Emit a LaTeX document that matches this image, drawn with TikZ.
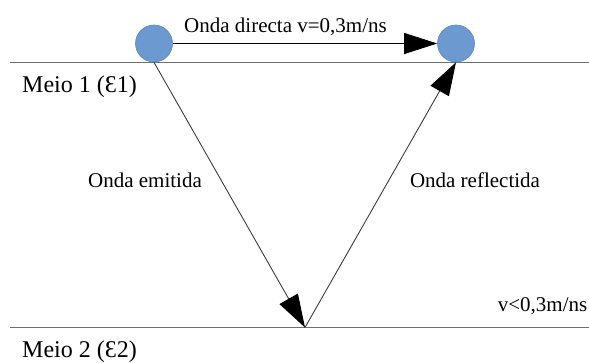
\documentclass[tikz,border=0pt]{standalone}
\usepackage{fontspec}
\setmainfont{Liberation Serif}
\usetikzlibrary{arrows.meta}
\definecolor{dotblue}{HTML}{6C9AD0}
\definecolor{dotedge}{HTML}{5A86BE}
\definecolor{surf}{HTML}{6E6E6E}
\definecolor{ray}{HTML}{3C3C3C}
\tikzset{
  dot/.style={circle, fill=dotblue, draw=dotedge, line width=0.6pt, minimum size=37pt, inner sep=0pt},
  surface/.style={draw=surf, line width=1.2pt},
  raypath/.style={draw=ray, line width=0.9pt, -{Triangle[length=33pt,width=21pt,color=black]}},
  lbl/.style={inner sep=0pt, font=\fontsize{21}{25}\selectfont},
  medium/.style={inner sep=0pt, font=\fontsize{24}{28}\selectfont, anchor=base west},
}
\begin{document}
\begin{tikzpicture}[x=1pt,y=-1pt]
\useasboundingbox (0,0) rectangle (589,363);
% surfaces
\coordinate (l1a) at (10,62.5);
\coordinate (l1b) at (589,62.5);
\coordinate (l2a) at (10,327.5);
\coordinate (l2b) at (589,327.5);
\draw[surface] (l1a) -- (l1b);
\draw[surface] (l2a) -- (l2b);
% antennas
\node[dot] (c1) at (154,43.5) {};
\node[dot] (c2) at (456,43.5) {};
\coordinate (v) at (305,327.5);
% rays
\draw[draw=black, line width=0.9pt, -{Triangle[length=33pt,width=21pt]}] (c1) -- (c2);
\draw[raypath] (c1.south) -- (v);
\draw[raypath] (v) -- (c2.south);
% labels
\node[lbl, anchor=base] (td) at (285.5,32.5) {Onda directa v=0,3m/ns};
\node[lbl, anchor=base] (te) at (145,188) {Onda emitida};
\node[lbl, anchor=base] (tr) at (475,188) {Onda reflectida};
\node[lbl, anchor=base east] (tv) at (587.5,312) {v<0,3m/ns};
\node[medium] (m1) at (22,93) {Meio 1 (Ɛ1)};
\node[medium] (m2) at (22,357) {Meio 2 (Ɛ2)};
\end{tikzpicture}
\end{document}
